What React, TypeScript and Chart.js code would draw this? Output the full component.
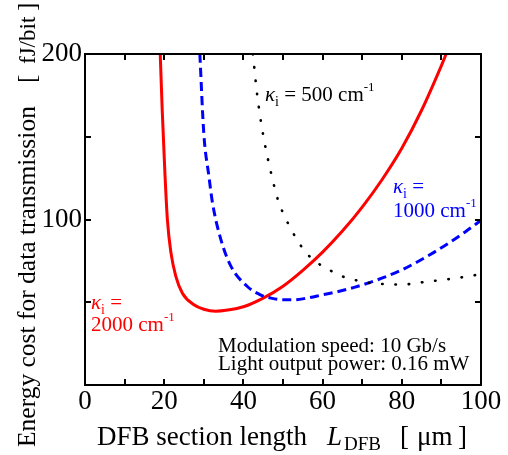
import React, { useEffect, useRef } from "react";
import { Chart, registerables } from "chart.js";
Chart.register(...registerables);

const FONT = '"Liberation Serif", "Times New Roman", serif';

const xLabelTicks = [0, 20, 40, 60, 80, 100];
const xMarkTicks = [10, 20, 30, 40, 50, 60, 70, 80, 90];
const yLabelTicks = [100, 200];
const yMarkTicks = [50, 100, 150];

// kappa_i = 2000 cm^-1 (red solid)
const L2000 = [19.0, 19.5, 20.2, 20.8, 21.7, 22.9, 24.6, 27.5, 30, 33, 36, 40, 45, 50, 55, 60, 65, 70, 75, 80, 85, 90, 91.2];
const E2000 = [200, 166, 127, 100, 80, 66, 55.5, 48.5, 45.8, 44.6, 45.3, 47.3, 52.5, 59.7, 69.3, 80.3, 93, 107.5, 124, 143, 166, 193, 200];

// kappa_i = 1000 cm^-1 (blue dashed)
const L1000 = [29.0, 30.0, 31.3, 32.2, 34.3, 36.8, 41, 44.3, 47, 50, 53, 56, 60, 64, 68, 72, 76, 80, 84, 88, 92, 96, 100];
const E1000 = [200, 152, 126, 110, 88, 72, 59.5, 54.5, 52.5, 51.5, 51.5, 52.5, 54.5, 56.5, 59, 62, 65.5, 69.5, 74.5, 80, 86, 92.5, 99.5];

// kappa_i = 500 cm^-1 (black dotted)
const L500 = [42.4, 43.5, 45, 47, 48.7, 50, 51.2, 53, 55, 57, 59.5, 62.5, 65.5, 69, 72, 75.5, 79, 82, 85, 88.5, 92, 95, 98.5, 100];
const E500 = [200, 175, 151, 128, 112, 104, 98, 90, 82.5, 77, 72.5, 68.5, 65.2, 63, 61.6, 61, 60.7, 61, 62, 63, 64, 65, 66.4, 67];

type Piece = { t: string; size: number; italic?: boolean; dy?: number };

function drawPieces(ctx: CanvasRenderingContext2D, x: number, y: number, pieces: Piece[], color: string) {
  let cx = x;
  ctx.fillStyle = color;
  ctx.textAlign = "left";
  ctx.textBaseline = "alphabetic";
  for (const p of pieces) {
    ctx.font = `${p.italic ? "italic " : ""}${p.size}px ${FONT}`;
    ctx.fillText(p.t, cx, y + (p.dy || 0));
    cx += ctx.measureText(p.t).width;
  }
}

const decorPlugin = {
  id: "decor",
  afterDatasetsDraw(chart: any) {
    const ctx: CanvasRenderingContext2D = chart.ctx;
    const { left, right, top, bottom } = chart.chartArea;
    const xs = chart.scales.x;
    const ys = chart.scales.y;
    ctx.save();
    ctx.strokeStyle = "#000";
    ctx.lineWidth = 2;
    ctx.beginPath();
    for (const v of xMarkTicks) {
      const px = Math.round(xs.getPixelForValue(v));
      ctx.moveTo(px, bottom);
      ctx.lineTo(px, bottom - 6);
      ctx.moveTo(px, top);
      ctx.lineTo(px, top + 6);
    }
    for (const v of yMarkTicks) {
      const py = Math.round(ys.getPixelForValue(v));
      ctx.moveTo(left, py);
      ctx.lineTo(left + 6, py);
      ctx.moveTo(right, py);
      ctx.lineTo(right - 6, py);
    }
    ctx.stroke();
    ctx.strokeRect(left, top, right - left, bottom - top);
    ctx.restore();
  },
  afterDraw(chart: any) {
    const ctx: CanvasRenderingContext2D = chart.ctx;
    ctx.save();
    // curve labels
    drawPieces(ctx, 265, 101, [
      { t: "κ", size: 21, italic: true },
      { t: "i", size: 14, dy: 5 },
      { t: " = 500 cm", size: 21 },
      { t: "-1", size: 13, dy: -10 },
    ], "#000");
    drawPieces(ctx, 393, 193, [
      { t: "κ", size: 21, italic: true },
      { t: "i", size: 14, dy: 5 },
      { t: " =", size: 21 },
    ], "#0000ff");
    drawPieces(ctx, 393, 217, [
      { t: "1000 cm", size: 21 },
      { t: "-1", size: 13, dy: -10 },
    ], "#0000ff");
    drawPieces(ctx, 91, 309, [
      { t: "κ", size: 21, italic: true },
      { t: "i", size: 14, dy: 5 },
      { t: " =", size: 21 },
    ], "#ff0000");
    drawPieces(ctx, 91, 331, [
      { t: "2000 cm", size: 21 },
      { t: "-1", size: 13, dy: -10 },
    ], "#ff0000");
    // conditions
    drawPieces(ctx, 218, 352, [{ t: "Modulation speed: 10 Gb/s", size: 21 }], "#000");
    drawPieces(ctx, 218, 370, [{ t: "Light output power: 0.16 mW", size: 21 }], "#000");
    // x title
    drawPieces(ctx, 97, 445, [{ t: "DFB section length", size: 27 }], "#000");
    drawPieces(ctx, 327, 445, [{ t: "L", size: 27, italic: true }], "#000");
    drawPieces(ctx, 344, 450, [{ t: "DFB", size: 19 }], "#000");
    drawPieces(ctx, 400, 445, [{ t: "[", size: 27 }], "#000");
    drawPieces(ctx, 417, 445, [{ t: "μm", size: 27 }], "#000");
    drawPieces(ctx, 458, 445, [{ t: "]", size: 27 }], "#000");
    // y title
    ctx.translate(35, 447);
    ctx.rotate(-Math.PI / 2);
    drawPieces(ctx, 0, 0, [{ t: "Energy cost for data transmission", size: 25.5 }], "#000");
    drawPieces(ctx, 364, 0, [{ t: "[", size: 25.5 }], "#000");
    drawPieces(ctx, 383, 0, [{ t: "fJ/bit", size: 23 }], "#000");
    drawPieces(ctx, 436, 0, [{ t: "]", size: 25.5 }], "#000");
    ctx.restore();
  },
};

export default function App() {
  const ref = useRef<HTMLCanvasElement | null>(null);
  useEffect(() => {
    document.body.style.margin = "0";
    const canvas = ref.current!;
    const mk = (L: number[], E: number[]) => L.map((x, i) => ({ x, y: E[i] }));
    const chart = new Chart(canvas, {
      type: "line",
      data: {
        datasets: [
          {
            label: "500",
            data: mk(L500, E500),
            borderColor: "#000",
            borderWidth: 2.6,
            borderDash: [0.5, 12.8],
            borderCapStyle: "round",
            pointRadius: 0,
            cubicInterpolationMode: "monotone",
            fill: false,
          },
          {
            label: "1000",
            data: mk(L1000, E1000),
            borderColor: "#0000ff",
            borderWidth: 3,
            borderDash: [9, 5],
            pointRadius: 0,
            cubicInterpolationMode: "monotone",
            fill: false,
          },
          {
            label: "2000",
            data: mk(L2000, E2000),
            borderColor: "#ff0000",
            borderWidth: 3,
            pointRadius: 0,
            cubicInterpolationMode: "monotone",
            fill: false,
          },
        ],
      },
      options: {
        animation: false,
        responsive: false,
        maintainAspectRatio: false,
        layout: { padding: { top: 54, right: 27, left: 0, bottom: 0 } },
        plugins: { legend: { display: false }, tooltip: { enabled: false } },
        scales: {
          x: {
            type: "linear",
            min: 0,
            max: 100,
            afterFit: (s: any) => { s.height = 70; },
            afterBuildTicks: (s: any) => { s.ticks = xLabelTicks.map((v) => ({ value: v })); },
            ticks: { font: { family: FONT, size: 27 }, color: "#000", padding: 1, maxRotation: 0, autoSkip: false },
            grid: { display: false, drawTicks: false },
            border: { display: false },
          },
          y: {
            type: "linear",
            min: 0,
            max: 200,
            afterFit: (s: any) => { s.width = 85; },
            afterBuildTicks: (s: any) => { s.ticks = yLabelTicks.map((v) => ({ value: v })); },
            ticks: { font: { family: FONT, size: 27 }, color: "#000", padding: 3 },
            grid: { display: false, drawTicks: false },
            border: { display: false },
          },
        },
      } as any,
      plugins: [decorPlugin],
    });
    return () => chart.destroy();
  }, []);
  return <canvas ref={ref} width={508} height={455} style={{ display: "block" }} />;
}
